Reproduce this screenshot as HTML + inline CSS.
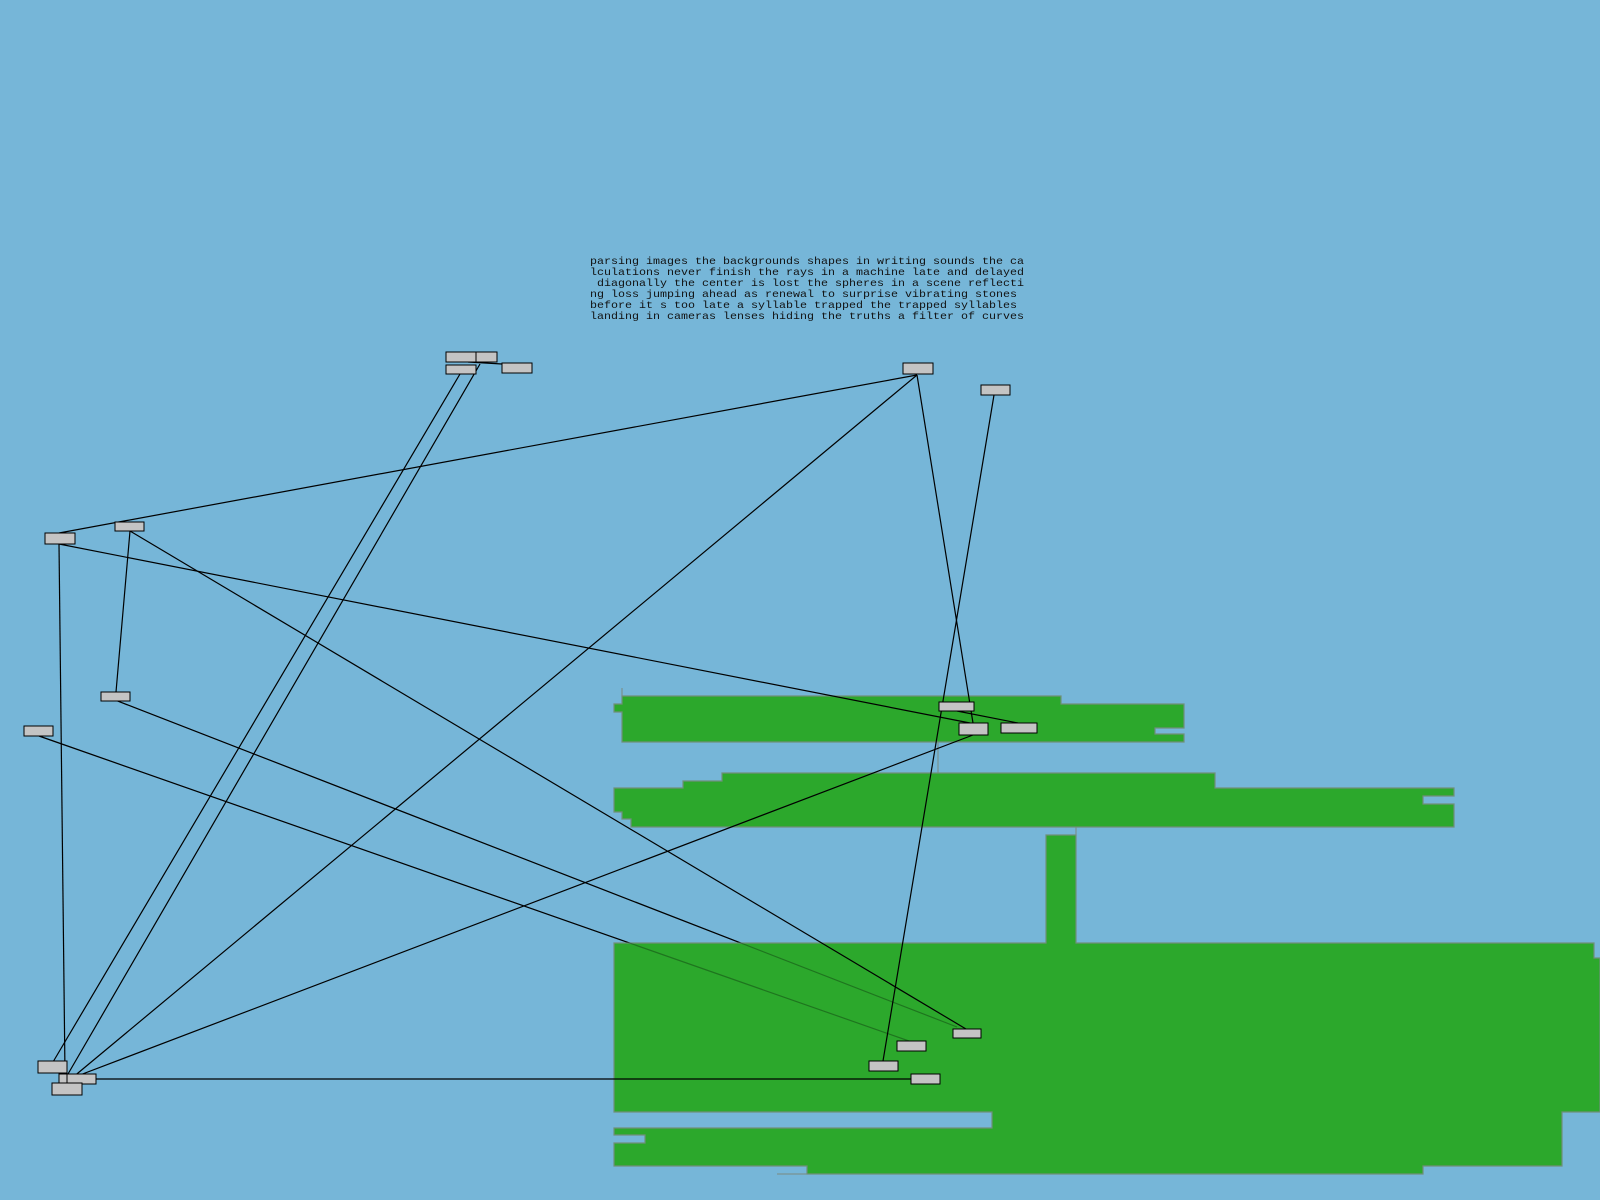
<!DOCTYPE html>
<html><head><meta charset="utf-8"><style>
html,body{margin:0;padding:0;background:#76b6d8;}
svg{display:block}
text{font-family:"Liberation Mono",monospace;font-size:10.5px;fill:#111;}
</style></head><body>
<svg width="1600" height="1200" viewBox="0 0 1600 1200" xmlns="http://www.w3.org/2000/svg">
<rect width="1600" height="1200" fill="#76b6d8"/>
<g stroke="#000" stroke-width="1.2" fill="none">
<line x1="115" y1="700" x2="957" y2="1027"/>
<line x1="39" y1="736" x2="909" y2="1041"/>
</g>
<g fill="#2ca82c" stroke="#6f8f7a" stroke-width="1.2">
<path d="M622,696 H1061 V704 H1184 V728 H1155 V734 H1184 V742 H622 V712 H614 V704 H622 Z"/>
<path d="M722,773 H1215 V788 H1454 V796 H1423 V804 H1454 V827 H631 V819 H622 V812 H614 V788 H683 V781 H722 Z"/>
<path d="M1046,835 H1076 V943 H1594 V958 H1600 V1112 H1562 V1166 H1423 V1174 H807 V1166 H614 V1143 H645 V1135 H614 V1128 H992 V1112 H614 V943 H1046 Z"/>
</g>
<g stroke="#000" stroke-opacity="0.3" stroke-width="1.2" fill="none">
<line x1="115" y1="700" x2="957" y2="1027"/>
<line x1="39" y1="736" x2="909" y2="1041"/>
</g>
<g stroke="#7a8a80" stroke-width="1" fill="none">
<line x1="622" y1="688" x2="622" y2="696"/>
<line x1="938" y1="742" x2="938" y2="773"/>
<line x1="1076" y1="827" x2="1076" y2="835"/>
<line x1="777" y1="1174" x2="807" y2="1174"/>
</g>
<g stroke="#000" stroke-width="1.2" fill="none">
<line x1="917" y1="375" x2="59" y2="533"/>
<line x1="59" y1="544" x2="970" y2="723"/>
<line x1="59" y1="544" x2="65" y2="1074"/>
<line x1="130" y1="531" x2="116" y2="692"/>
<line x1="130" y1="531" x2="966" y2="1029"/>
<line x1="917" y1="375" x2="973" y2="723"/>
<line x1="994" y1="395" x2="883" y2="1061"/>
<line x1="917" y1="375" x2="72" y2="1078"/>
<line x1="973" y1="735" x2="72" y2="1078"/>
<line x1="96" y1="1079" x2="911" y2="1079"/>
<line x1="460" y1="374" x2="53" y2="1062"/>
<line x1="480" y1="364" x2="68" y2="1074"/>
<line x1="957" y1="711" x2="1018" y2="723"/>
<line x1="468" y1="362" x2="502" y2="364"/>
</g>
<g fill="#c4c4c4" stroke="#000" stroke-width="1">
<rect x="446" y="352" width="30" height="10"/>
<rect x="476" y="352" width="21" height="10"/>
<rect x="446" y="365" width="30" height="9"/>
<rect x="502" y="363" width="30" height="10"/>
<rect x="903" y="363" width="30" height="11"/>
<rect x="981" y="385" width="29" height="10"/>
<rect x="45" y="533" width="30" height="11"/>
<rect x="115" y="522" width="29" height="9"/>
<rect x="101" y="692" width="29" height="9"/>
<rect x="24" y="726" width="29" height="10"/>
<rect x="939" y="702" width="35" height="9"/>
<rect x="959" y="723" width="29" height="12"/>
<rect x="1001" y="723" width="36" height="10"/>
<rect x="953" y="1029" width="28" height="9"/>
<rect x="897" y="1041" width="29" height="10"/>
<rect x="869" y="1061" width="29" height="10"/>
<rect x="911" y="1074" width="29" height="10"/>
<rect x="38" y="1061" width="29" height="12"/>
<rect x="59" y="1074" width="8" height="9"/>
<rect x="67" y="1074" width="29" height="10"/>
<rect x="52" y="1083" width="30" height="12"/>
</g>
<text x="590" y="264" textLength="434" lengthAdjust="spacingAndGlyphs">parsing images the backgrounds shapes in writing sounds the ca</text>
<text x="590" y="275" textLength="434" lengthAdjust="spacingAndGlyphs">lculations never finish the rays in a machine late and delayed</text>
<text x="597" y="286" textLength="427" lengthAdjust="spacingAndGlyphs">diagonally the center is lost the spheres in a scene reflecti</text>
<text x="590" y="297" textLength="427" lengthAdjust="spacingAndGlyphs">ng loss jumping ahead as renewal to surprise vibrating stones</text>
<text x="590" y="308" textLength="427" lengthAdjust="spacingAndGlyphs">before it s too late a syllable trapped the trapped syllables</text>
<text x="590" y="319" textLength="434" lengthAdjust="spacingAndGlyphs">landing in cameras lenses hiding the truths a filter of curves</text>
</svg>
</body></html>
